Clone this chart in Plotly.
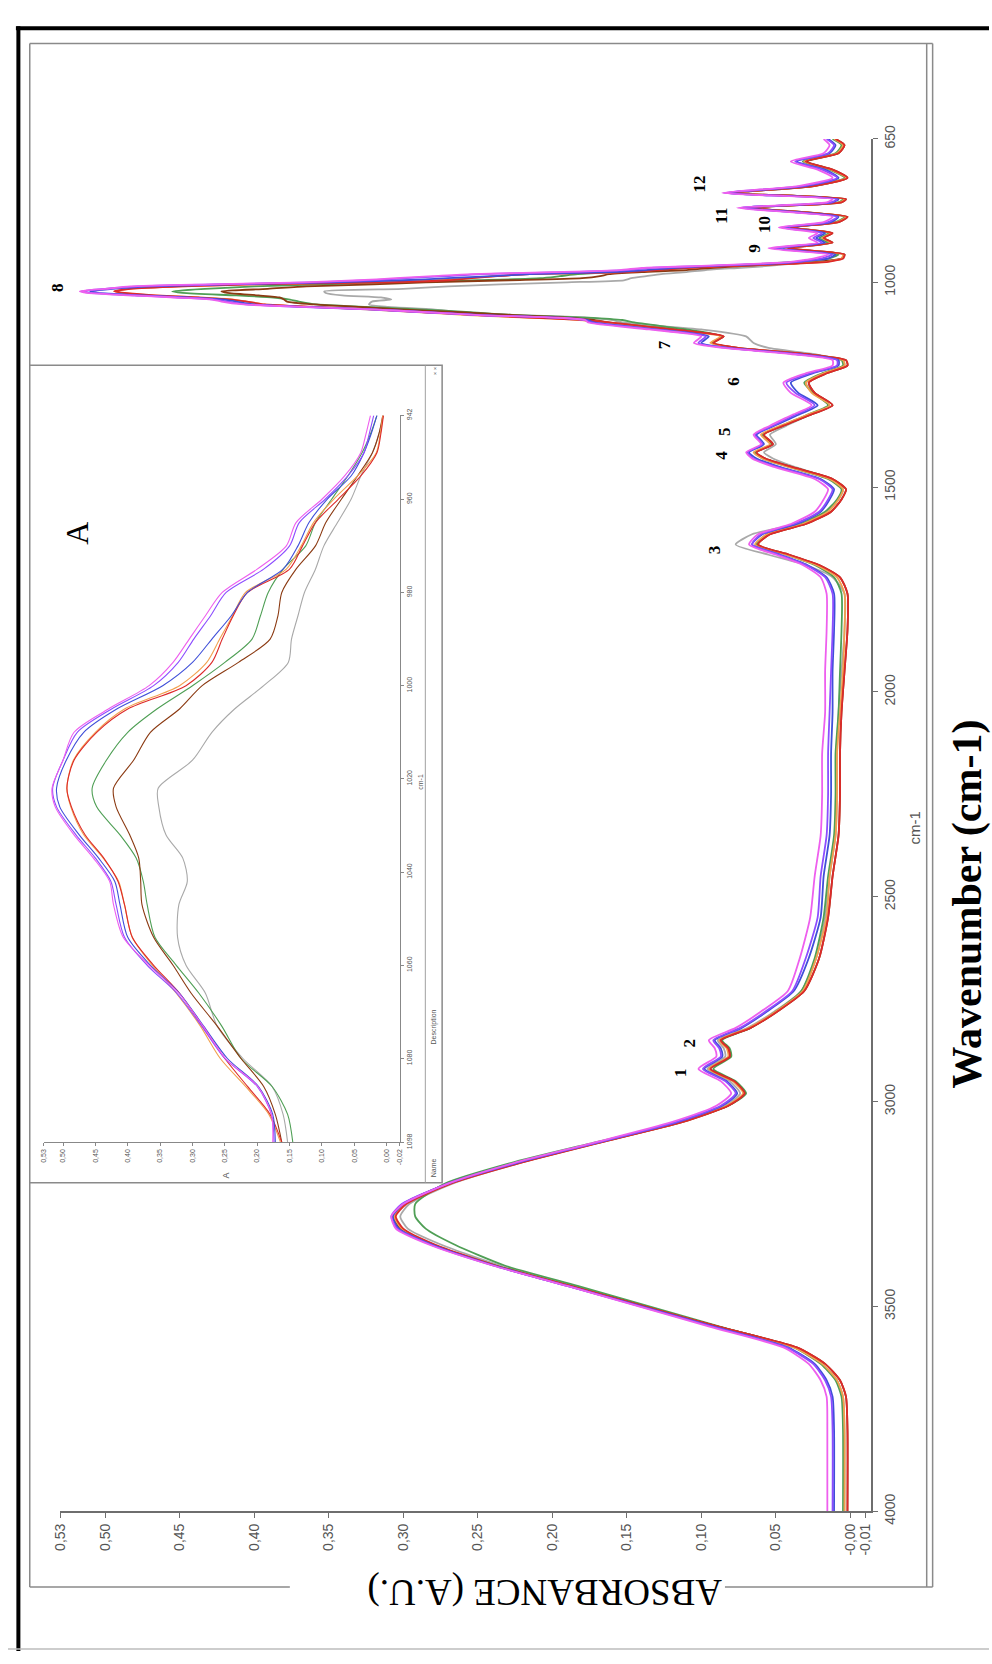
import plotly.graph_objects as go

W, H = 992, 1664

# ---------------- data ----------------
wavenumber = [
    4000, 3800, 3720, 3680, 3640, 3600, 3550, 3500, 3450, 3400,
    3350, 3310, 3280, 3250, 3200, 3150, 3100, 3050, 3010, 2980,
    2950, 2920, 2890, 2870, 2850, 2820, 2780, 2730, 2650, 2550,
    2450, 2350, 2250, 2150, 2050, 1950, 1850, 1760, 1720, 1690,
    1665, 1640, 1615, 1590, 1560, 1530, 1505, 1480, 1450, 1430,
    1415, 1395, 1372, 1350, 1325, 1300, 1270, 1245, 1222, 1203,
    1190, 1175, 1160, 1148, 1132, 1115, 1098, 1092, 1086, 1080,
    1073, 1066, 1060, 1054, 1047, 1042, 1037, 1032, 1026, 1022,
    1016, 1010, 1005, 1000, 995, 990, 985, 980, 975, 970,
    965, 960, 955, 950, 946, 942, 932, 917, 903, 892,
    880, 866, 853, 840, 818, 805, 797, 782, 765, 745,
    725, 705, 685, 665, 650,
]

abs_gray = [
    0.004, 0.004, 0.005, 0.009, 0.019, 0.037, 0.088, 0.137, 0.186, 0.235,
    0.274, 0.297, 0.302, 0.296, 0.267, 0.222, 0.168, 0.114, 0.084, 0.074,
    0.081, 0.096, 0.084, 0.085, 0.089, 0.069, 0.051, 0.033, 0.023, 0.017,
    0.014, 0.010, 0.009, 0.009, 0.008, 0.006, 0.004, 0.004, 0.012, 0.030,
    0.055, 0.077, 0.066, 0.036, 0.016, 0.008, 0.005, 0.013, 0.038, 0.052,
    0.058, 0.050, 0.054, 0.043, 0.028, 0.014, 0.024, 0.030, 0.017, 0.004,
    0.005, 0.025, 0.055, 0.065, 0.070, 0.100, 0.153, 0.160, 0.177, 0.222,
    0.262, 0.280, 0.310, 0.323, 0.321, 0.308, 0.315, 0.341, 0.352, 0.353,
    0.300, 0.270, 0.235, 0.190, 0.152, 0.147, 0.137, 0.127, 0.110, 0.097,
    0.076, 0.055, 0.040, 0.022, 0.012, 0.005, 0.004, 0.043, 0.013, 0.019,
    0.013, 0.040, 0.009, 0.003, 0.066, 0.007, 0.004, 0.078, 0.025, 0.003,
    0.013, 0.030, 0.009, 0.005, 0.011,
]

abs_green = [
    0.005, 0.005, 0.006, 0.010, 0.020, 0.038, 0.087, 0.135, 0.183, 0.232,
    0.265, 0.285, 0.292, 0.292, 0.272, 0.228, 0.172, 0.115, 0.082, 0.070,
    0.077, 0.092, 0.080, 0.081, 0.086, 0.067, 0.050, 0.033, 0.024, 0.018,
    0.015, 0.011, 0.010, 0.010, 0.008, 0.007, 0.006, 0.006, 0.011, 0.024,
    0.043, 0.063, 0.056, 0.033, 0.017, 0.009, 0.006, 0.015, 0.042, 0.059,
    0.064, 0.053, 0.059, 0.046, 0.030, 0.015, 0.025, 0.031, 0.019, 0.005,
    0.006, 0.033, 0.078, 0.093, 0.086, 0.110, 0.145, 0.153, 0.177, 0.225,
    0.255, 0.290, 0.325, 0.358, 0.370, 0.376, 0.387, 0.412, 0.448, 0.455,
    0.433, 0.400, 0.355, 0.300, 0.250, 0.208, 0.195, 0.183, 0.160, 0.125,
    0.110, 0.085, 0.060, 0.038, 0.025, 0.015, 0.008, 0.045, 0.015, 0.021,
    0.014, 0.042, 0.010, 0.004, 0.070, 0.008, 0.005, 0.081, 0.027, 0.004,
    0.014, 0.032, 0.010, 0.006, 0.012,
]

abs_brown = [
    0.002, 0.002, 0.003, 0.007, 0.017, 0.036, 0.088, 0.138, 0.188, 0.238,
    0.279, 0.302, 0.307, 0.300, 0.270, 0.223, 0.169, 0.113, 0.082, 0.071,
    0.078, 0.094, 0.081, 0.082, 0.087, 0.067, 0.049, 0.031, 0.021, 0.015,
    0.012, 0.008, 0.007, 0.007, 0.006, 0.004, 0.002, 0.002, 0.007, 0.021,
    0.041, 0.062, 0.054, 0.030, 0.013, 0.006, 0.003, 0.012, 0.040, 0.057,
    0.063, 0.052, 0.058, 0.045, 0.028, 0.012, 0.024, 0.028, 0.016, 0.002,
    0.003, 0.030, 0.075, 0.092, 0.085, 0.118, 0.162, 0.172, 0.190, 0.225,
    0.262, 0.302, 0.330, 0.360, 0.378, 0.380, 0.383, 0.397, 0.418, 0.422,
    0.391, 0.365, 0.320, 0.285, 0.229, 0.180, 0.168, 0.162, 0.140, 0.110,
    0.094, 0.070, 0.045, 0.022, 0.012, 0.006, 0.004, 0.040, 0.012, 0.018,
    0.012, 0.039, 0.008, 0.002, 0.066, 0.006, 0.003, 0.078, 0.024, 0.002,
    0.012, 0.029, 0.008, 0.004, 0.010,
]

abs_orange = [
    0.004, 0.004, 0.005, 0.009, 0.019, 0.038, 0.089, 0.139, 0.189, 0.239,
    0.279, 0.301, 0.306, 0.299, 0.269, 0.223, 0.169, 0.114, 0.083, 0.072,
    0.079, 0.095, 0.082, 0.083, 0.088, 0.068, 0.050, 0.032, 0.023, 0.016,
    0.014, 0.010, 0.009, 0.009, 0.007, 0.005, 0.004, 0.004, 0.009, 0.023,
    0.043, 0.064, 0.056, 0.032, 0.015, 0.008, 0.005, 0.014, 0.042, 0.059,
    0.065, 0.054, 0.060, 0.047, 0.030, 0.014, 0.026, 0.030, 0.018, 0.004,
    0.005, 0.032, 0.077, 0.094, 0.087, 0.122, 0.164, 0.182, 0.218, 0.257,
    0.288, 0.325, 0.362, 0.393, 0.405, 0.414, 0.438, 0.468, 0.488, 0.494,
    0.484, 0.450, 0.405, 0.320, 0.278, 0.258, 0.238, 0.218, 0.155, 0.132,
    0.113, 0.082, 0.045, 0.016, 0.010, 0.006, 0.005, 0.044, 0.013, 0.019,
    0.013, 0.041, 0.009, 0.003, 0.069, 0.007, 0.004, 0.081, 0.026, 0.003,
    0.013, 0.031, 0.009, 0.005, 0.011,
]

abs_red = [
    0.002, 0.002, 0.003, 0.007, 0.017, 0.036, 0.088, 0.138, 0.188, 0.238,
    0.278, 0.300, 0.305, 0.298, 0.268, 0.222, 0.168, 0.113, 0.082, 0.071,
    0.078, 0.094, 0.081, 0.082, 0.087, 0.067, 0.049, 0.031, 0.021, 0.015,
    0.012, 0.008, 0.007, 0.007, 0.006, 0.004, 0.002, 0.002, 0.007, 0.021,
    0.041, 0.062, 0.054, 0.030, 0.013, 0.006, 0.003, 0.012, 0.040, 0.057,
    0.063, 0.052, 0.058, 0.045, 0.028, 0.012, 0.024, 0.028, 0.016, 0.002,
    0.003, 0.030, 0.075, 0.092, 0.085, 0.120, 0.162, 0.180, 0.215, 0.250,
    0.285, 0.320, 0.360, 0.393, 0.405, 0.415, 0.437, 0.466, 0.487, 0.494,
    0.483, 0.448, 0.400, 0.310, 0.270, 0.254, 0.237, 0.215, 0.150, 0.130,
    0.110, 0.075, 0.040, 0.015, 0.009, 0.005, 0.004, 0.042, 0.012, 0.018,
    0.012, 0.040, 0.008, 0.002, 0.068, 0.006, 0.003, 0.080, 0.025, 0.002,
    0.012, 0.030, 0.008, 0.004, 0.010,
]

abs_blue = [
    0.011, 0.011, 0.012, 0.016, 0.024, 0.042, 0.091, 0.140, 0.190, 0.239,
    0.280, 0.303, 0.307, 0.300, 0.270, 0.224, 0.170, 0.116, 0.086, 0.076,
    0.083, 0.098, 0.086, 0.087, 0.091, 0.073, 0.056, 0.038, 0.028, 0.020,
    0.018, 0.014, 0.013, 0.013, 0.012, 0.012, 0.011, 0.011, 0.016, 0.029,
    0.047, 0.066, 0.059, 0.036, 0.020, 0.014, 0.011, 0.020, 0.048, 0.063,
    0.068, 0.058, 0.063, 0.051, 0.036, 0.022, 0.035, 0.040, 0.025, 0.008,
    0.008, 0.036, 0.082, 0.100, 0.095, 0.130, 0.172, 0.176, 0.198, 0.246,
    0.283, 0.320, 0.365, 0.400, 0.412, 0.420, 0.445, 0.475, 0.505, 0.510,
    0.495, 0.468, 0.417, 0.346, 0.300, 0.270, 0.240, 0.215, 0.160, 0.137,
    0.120, 0.092, 0.055, 0.035, 0.024, 0.015, 0.010, 0.050, 0.017, 0.023,
    0.017, 0.045, 0.013, 0.008, 0.073, 0.012, 0.008, 0.084, 0.030, 0.008,
    0.017, 0.036, 0.014, 0.010, 0.015,
]

abs_violet = [
    0.012, 0.012, 0.013, 0.017, 0.025, 0.043, 0.092, 0.141, 0.190, 0.240,
    0.281, 0.304, 0.308, 0.301, 0.270, 0.225, 0.170, 0.117, 0.087, 0.077,
    0.084, 0.099, 0.087, 0.088, 0.092, 0.074, 0.057, 0.039, 0.030, 0.022,
    0.020, 0.016, 0.015, 0.015, 0.014, 0.013, 0.012, 0.012, 0.017, 0.030,
    0.048, 0.066, 0.060, 0.038, 0.021, 0.015, 0.012, 0.021, 0.050, 0.065,
    0.069, 0.059, 0.064, 0.052, 0.038, 0.024, 0.037, 0.043, 0.027, 0.009,
    0.009, 0.037, 0.083, 0.102, 0.097, 0.132, 0.174, 0.178, 0.200, 0.250,
    0.286, 0.324, 0.370, 0.405, 0.418, 0.426, 0.450, 0.480, 0.510, 0.516,
    0.500, 0.478, 0.425, 0.360, 0.322, 0.298, 0.272, 0.248, 0.190, 0.150,
    0.135, 0.095, 0.060, 0.035, 0.027, 0.020, 0.012, 0.052, 0.019, 0.025,
    0.019, 0.046, 0.015, 0.009, 0.074, 0.013, 0.009, 0.085, 0.032, 0.009,
    0.019, 0.037, 0.015, 0.011, 0.016,
]

abs_pink = [
    0.0155, 0.0155, 0.016, 0.020, 0.028, 0.045, 0.094, 0.142, 0.190, 0.240,
    0.282, 0.305, 0.308, 0.300, 0.270, 0.226, 0.172, 0.120, 0.090, 0.080,
    0.087, 0.102, 0.090, 0.091, 0.095, 0.077, 0.060, 0.042, 0.034, 0.027,
    0.024, 0.020, 0.019, 0.019, 0.017, 0.017, 0.016, 0.016, 0.020, 0.032,
    0.050, 0.068, 0.062, 0.040, 0.024, 0.018, 0.015, 0.024, 0.052, 0.066,
    0.070, 0.060, 0.065, 0.054, 0.040, 0.026, 0.040, 0.045, 0.030, 0.012,
    0.012, 0.040, 0.085, 0.105, 0.100, 0.135, 0.176, 0.178, 0.199, 0.249,
    0.284, 0.321, 0.367, 0.407, 0.422, 0.428, 0.453, 0.483, 0.512, 0.517,
    0.500, 0.483, 0.430, 0.367, 0.330, 0.305, 0.280, 0.254, 0.200, 0.155,
    0.140, 0.100, 0.065, 0.040, 0.032, 0.025, 0.015, 0.055, 0.022, 0.028,
    0.022, 0.048, 0.018, 0.012, 0.076, 0.016, 0.012, 0.086, 0.035, 0.012,
    0.022, 0.040, 0.018, 0.014, 0.018,
]

series = [
    ("gray", "#a9a9a9", abs_gray),
    ("green", "#4f9f55", abs_green),
    ("brown", "#8b3a12", abs_brown),
    ("orange", "#f2a04e", abs_orange),
    ("red", "#dd2a2a", abs_red),
    ("blue", "#3f4fd8", abs_blue),
    ("violet", "#8c4dff", abs_violet),
    ("pink", "#ee5fee", abs_pink),
]
for name, _, vals in series:
    if len(vals) != len(wavenumber):
        raise ValueError(f"{name}: {len(vals)} != {len(wavenumber)}")

abs_ticks = [0.53, 0.50, 0.45, 0.40, 0.35, 0.30, 0.25, 0.20, 0.15, 0.10, 0.05, 0.00, -0.01]
abs_ticktext = ["0,53", "0,50", "0,45", "0,40", "0,35", "0,30", "0,25", "0,20",
                "0,15", "0,10", "0,05", "-0,00", "-0,01"]
wn_ticks = [650, 1000, 1500, 2000, 2500, 3000, 3500, 4000]

inset_abs_ticks = [0.53, 0.50, 0.45, 0.40, 0.35, 0.30, 0.25, 0.20, 0.15, 0.10, 0.05, 0.00, -0.02]
inset_abs_text = ["0,53", "0,50", "0,45", "0,40", "0,35", "0,30", "0,25", "0,20",
                  "0,15", "0,10", "0,05", "0,00", "-0,02"]
inset_wn_ticks = [942, 960, 980, 1000, 1020, 1040, 1060, 1080, 1098]
inset_lo, inset_hi = 942, 1098

# peak labels: (text, x_px, y_px)
peak_labels = [
    ("1", 680, 1076), ("2", 689, 1046), ("3", 714, 545), ("4", 722, 448),
    ("5", 724, 424), ("6", 734, 373), ("7", 664, 336), ("8", 50, 278),
    ("9", 755, 238), ("10", 765, 214), ("11", 722, 205), ("12", 699, 173),
]


# ---------------- helpers ----------------
def X(px):
    return px / W


def Y(py):
    return 1 - py / H


fig = go.Figure()

for name, color, vals in series:
    fig.add_trace(go.Scatter(
        x=vals, y=wavenumber, mode="lines", name=name,
        line=dict(color=color, width=1.8, shape="spline", smoothing=0.6),
        xaxis="x", yaxis="y", showlegend=False, hoverinfo="skip"))

for name, color, vals in series:
    xs, ys = [], []
    for w, a in zip(wavenumber, vals):
        if inset_lo <= w <= inset_hi:
            xs.append(a)
            ys.append(w)
    fig.add_trace(go.Scatter(
        x=xs, y=ys, mode="lines", name=name + " (A)",
        line=dict(color=color, width=1.1, shape="spline", smoothing=0.8),
        xaxis="x2", yaxis="y2", showlegend=False, hoverinfo="skip"))

axis_gray = "#6e6e6e"
label_gray = "#555555"

shapes = []


def line(x0, y0, x1, y1, color="#8a8a8a", width=1.5):
    shapes.append(dict(type="line", xref="paper", yref="paper",
                       x0=X(x0), y0=Y(y0), x1=X(x1), y1=Y(y1),
                       line=dict(color=color, width=width), layer="below"))


# outer black border (top, left) and thin bottom line
line(8, 14.5, 992, 14.5, color="#000000", width=4)
line(10.5, 12.5, 10.5, 1664, color="#000000", width=4)
line(0, 1662, 992, 1662, color="#bdbdbd", width=1.5)

# main frame
line(22, 30, 935, 30)
line(22, 30, 22, 1599)
line(929, 30, 929, 1599)
line(935, 30, 935, 1599)
line(22, 1599, 285, 1599)
line(725, 1599, 935, 1599)

# inset box
shapes.append(dict(type="rect", xref="paper", yref="paper",
                   x0=X(22), y0=Y(1188), x1=X(439), y1=Y(357),
                   line=dict(color="#8a8a8a", width=1.5), fillcolor="white",
                   layer="below"))
line(422, 357, 422, 1188, color="#a0a0a0", width=1)

annotations = []


def text(t, px, py, size, angle=-90, family="Liberation Serif", color="#000000",
         bold=False):
    annotations.append(dict(
        text=f"<b>{t}</b>" if bold else t, x=X(px), y=Y(py), xref="paper", yref="paper",
        showarrow=False, textangle=angle, xanchor="center", yanchor="middle",
        font=dict(family=family, size=size, color=color)))


for t, px, py in peak_labels:
    text(t, px, py, 17, bold=True)

text("A", 70, 528, 32)
text("Wavenumber (cm-1)", 970, 905, 42, bold=True)
text("ABSORBANCE (A.U.)", 542, 1604, 37, angle=180)
text("cm-1", 917, 827, 15, family="Liberation Sans", color=label_gray)

# inset extras
text("A", 220, 1181, 9, family="Liberation Sans", color=label_gray)
text("cm-1", 417, 780, 7, family="Liberation Sans", color=label_gray)
text("Description", 431, 1030, 7, family="Liberation Sans", color=label_gray)
text("Name", 431, 1173, 7, family="Liberation Sans", color=label_gray)
text("× ×", 432, 363, 6, family="Liberation Sans", color=label_gray)

fig.update_layout(
    width=W, height=H,
    margin=dict(l=0, r=0, t=0, b=0),
    paper_bgcolor="white", plot_bgcolor="rgba(0,0,0,0)",
    shapes=shapes, annotations=annotations,
    xaxis=dict(domain=[X(53), X(873)], range=[0.53, -0.014], anchor="y",
               showgrid=False, zeroline=False, showline=True,
               linecolor=axis_gray, linewidth=1.5,
               ticks="outside", ticklen=5, tickcolor=axis_gray,
               tickvals=abs_ticks, ticktext=abs_ticktext, tickangle=-90,
               tickfont=dict(family="Liberation Sans", size=14, color=label_gray)),
    yaxis=dict(domain=[Y(1522), Y(127)], range=[4000, 650], anchor="x",
               side="right", showgrid=False, zeroline=False, showline=True,
               linecolor=axis_gray, linewidth=1.5,
               ticks="outside", ticklen=5, tickcolor=axis_gray,
               tickvals=wn_ticks, tickangle=-90,
               tickfont=dict(family="Liberation Sans", size=14, color=label_gray)),
    xaxis2=dict(domain=[X(36), X(396)], range=[0.53, -0.02], anchor="y2",
                showgrid=False, zeroline=False, showline=True,
                linecolor="#888888", linewidth=1,
                ticks="outside", ticklen=3, tickcolor="#888888",
                tickvals=inset_abs_ticks, ticktext=inset_abs_text, tickangle=-90,
                tickfont=dict(family="Liberation Sans", size=7, color=label_gray)),
    yaxis2=dict(domain=[Y(1147), Y(408)], range=[1098, 942], anchor="x2",
                side="right", showgrid=False, zeroline=False, showline=True,
                linecolor="#888888", linewidth=1,
                ticks="outside", ticklen=3, tickcolor="#888888",
                tickvals=inset_wn_ticks, tickangle=-90,
                tickfont=dict(family="Liberation Sans", size=7, color=label_gray)),
)

fig.write_html("out.html")
